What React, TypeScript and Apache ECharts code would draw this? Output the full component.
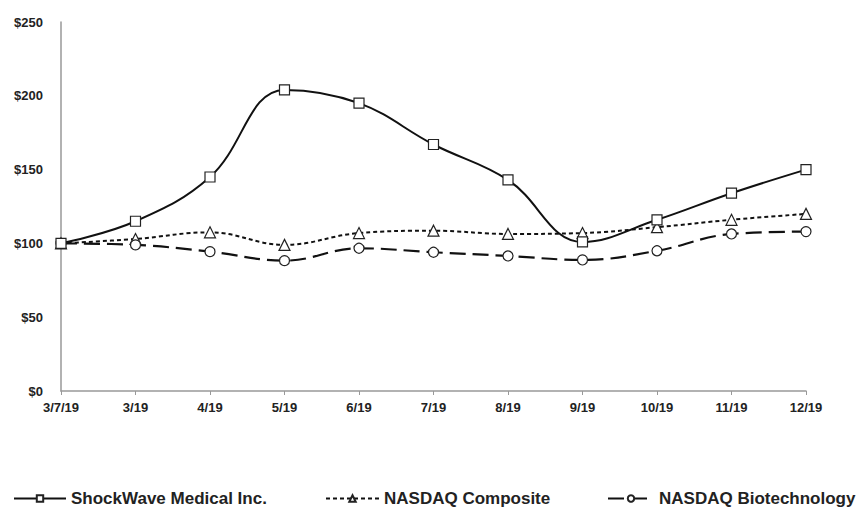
import React, { useEffect, useRef } from "react";
import * as echarts from "echarts";

const categories = ["3/7/19", "3/19", "4/19", "5/19", "6/19", "7/19", "8/19", "9/19", "10/19", "11/19", "12/19"];
const shockwave = [100, 115, 145, 204, 195, 167, 143, 101, 116, 134, 150];
const nasdaqComposite = [100, 103, 107.5, 99, 107, 108.6, 106.4, 107, 111, 116, 120];
const nasdaqBiotech = [100, 99, 94.4, 88.3, 96.7, 94, 91.5, 88.8, 95, 106.4, 108];
const seriesNames = ["ShockWave Medical Inc.", "NASDAQ Composite", "NASDAQ Biotechnology"];
const yTicks = [0, 50, 100, 150, 200, 250];

export default function App() {
  const ref = useRef<HTMLDivElement>(null);
  useEffect(() => {
    if (!ref.current) return;
    const chart = echarts.init(ref.current, null, { renderer: "svg" });
    const font = "'Liberation Sans', Arial, sans-serif";
    const mk = (name: string, data: number[], symbol: string, dash: any, width: number) => ({
      name,
      type: "line",
      data,
      smooth: 0.4,
      symbol,
      symbolSize: symbol === "triangle" ? 11 : 10,
      showSymbol: true,
      lineStyle: { color: "#111", width, type: dash },
      itemStyle: { color: "#fff", borderColor: "#222", borderWidth: 1.2 },
      emphasis: { disabled: true },
      z: name.startsWith("Shock") ? 3 : 2,
    });
    const legendBase = {
      top: 485,
      itemHeight: 8,
      textStyle: { color: "#222", fontWeight: "bold", fontSize: 17, fontFamily: font },
      selectedMode: false,
    };
    chart.setOption({
      animation: false,
      backgroundColor: "#fff",
      grid: { left: 61, right: 55, top: 22, bottom: 119, containLabel: false },
      xAxis: {
        type: "category",
        data: categories,
        boundaryGap: false,
        axisLine: { lineStyle: { color: "#999", width: 1.5 } },
        axisTick: { show: true, alignWithLabel: true, length: 4, lineStyle: { color: "#999" } },
        axisLabel: { color: "#222", fontWeight: "bold", fontSize: 13, fontFamily: font, margin: 10, interval: 0 },
        splitLine: { show: false },
      },
      yAxis: {
        type: "value",
        min: yTicks[0],
        max: yTicks[yTicks.length - 1],
        interval: 50,
        axisLine: { show: true, lineStyle: { color: "#999", width: 1.5 } },
        axisTick: { show: false },
        splitLine: { show: false },
        axisLabel: {
          color: "#222",
          fontWeight: "bold",
          fontSize: 13,
          fontFamily: font,
          margin: 18,
          formatter: (v: number) => "$" + v,
        },
      },
      legend: [
        { ...legendBase, left: 8, itemWidth: 52, data: [seriesNames[0]] },
        { ...legendBase, left: 320, itemWidth: 53, data: [seriesNames[1]] },
        { ...legendBase, left: 602, itemWidth: 46, data: [seriesNames[2]] },
      ],
      series: [
        mk(seriesNames[0], shockwave, "rect", "solid", 2),
        mk(seriesNames[1], nasdaqComposite, "triangle", [4, 3], 2),
        mk(seriesNames[2], nasdaqBiotech, "circle", [16, 7], 2.2),
      ],
    });
    return () => chart.dispose();
  }, []);
  return <div ref={ref} style={{ width: 861, height: 510, position: "absolute", left: 0, top: 0 }} />;
}
